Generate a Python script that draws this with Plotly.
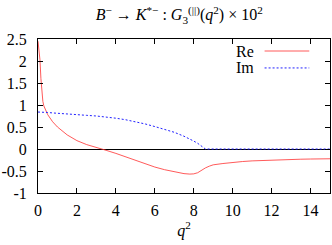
import plotly.graph_objects as go

q2 = [0, 0.05, 0.1, 0.15, 0.2, 0.25, 0.3, 0.4, 0.5, 0.75, 1.0, 1.5, 2.0, 2.5, 3.0,
      3.5, 4.0, 4.5, 5.0, 5.5, 6.0, 6.5, 7.0, 7.5, 7.8, 8.0, 8.2, 8.4, 8.6, 8.8,
      9.0, 9.5, 10, 10.5, 11, 11.5, 12, 12.5, 13, 13.5, 14, 14.5, 15]
re_vals = [2.45, 2.25, 2.03, 1.6, 1.25, 1.08, 0.98, 0.88, 0.78, 0.62, 0.50, 0.32, 0.19, 0.10, 0.04,
           -0.03, -0.10, -0.18, -0.26, -0.34, -0.41, -0.47, -0.52, -0.56, -0.57, -0.565, -0.54, -0.48, -0.43, -0.39,
           -0.36, -0.33, -0.30, -0.285, -0.27, -0.26, -0.25, -0.243, -0.237, -0.232, -0.228, -0.225, -0.222]
im_vals = [0.84, 0.84, 0.84, 0.84, 0.83, 0.83, 0.83, 0.83, 0.83, 0.82, 0.81, 0.795, 0.78, 0.765, 0.75,
           0.73, 0.70, 0.665, 0.62, 0.57, 0.51, 0.45, 0.38, 0.29, 0.23, 0.18, 0.13, 0.07, 0.0, 0.0,
           0.0, 0.0, 0.0, 0.0, 0.0, 0.0, 0.0, 0.0, 0.0, 0.0, 0.0, 0.0, 0.0]

x_ticks = [0, 2, 4, 6, 8, 10, 12, 14]
y_ticks = [-1, -0.5, 0, 0.5, 1, 1.5, 2, 2.5]
y_tick_text = ["-1", "-0.5", "0", "0.5", "1", "1.5", "2", "2.5"]

FONT = "Liberation Serif"

fig = go.Figure()
fig.add_trace(go.Scatter(x=q2, y=re_vals, mode="lines", name="Re",
                         line=dict(color="#ff3030", width=0.8), showlegend=False))
fig.add_trace(go.Scatter(x=q2, y=im_vals, mode="lines", name="Im",
                         line=dict(color="#2020ff", width=1, dash="2px,2px"), showlegend=False))

axis_common = dict(showline=True, linecolor="black", linewidth=1, mirror="ticks",
                   ticks="inside", ticklen=5, tickcolor="black", showgrid=False,
                   tickfont=dict(family=FONT, size=16, color="black"))

fig.update_layout(
    width=332, height=245,
    margin=dict(l=37, r=1, t=39, b=52),
    paper_bgcolor="white", plot_bgcolor="white",
    font=dict(family=FONT, size=16, color="black"),
    title=dict(text="<i>B</i><sup>−</sup> → <i>K</i><sup>*−</sup> : <i>G</i><sub>3</sub><sup>(||)</sup>(<i>q</i><sup>2</sup>) × 10<sup>2</sup>",
               x=0.54, xanchor="center", y=0.94, yanchor="middle",
               font=dict(family=FONT, size=16)),
    xaxis=dict(range=[0, 15], tickvals=x_ticks, zeroline=False,
               ticklabelstandoff=3,
               title=dict(text="<i>q</i><sup>2</sup>", standoff=6,
                          font=dict(family=FONT, size=16)),
               **axis_common),
    yaxis=dict(range=[-1, 2.5], tickvals=y_ticks, ticktext=y_tick_text,
               zeroline=True, zerolinecolor="black", zerolinewidth=1,
               ticklabelstandoff=7,
               **axis_common),
)

# gnuplot-style key: label then sample
fig.add_annotation(x=0.745, y=0.922, xref="paper", yref="paper", text="Re",
                   showarrow=False, xanchor="right", yanchor="middle",
                   font=dict(family=FONT, size=16))
fig.add_annotation(x=0.745, y=0.812, xref="paper", yref="paper", text="Im",
                   showarrow=False, xanchor="right", yanchor="middle",
                   font=dict(family=FONT, size=16))
fig.add_shape(type="line", xref="paper", yref="paper", x0=0.776, x1=0.929, y0=0.922, y1=0.922,
              line=dict(color="#ff3030", width=0.8))
fig.add_shape(type="line", xref="paper", yref="paper", x0=0.776, x1=0.929, y0=0.812, y1=0.812,
              line=dict(color="#2020ff", width=1, dash="2px,2px"))

fig.write_html("out.html", config={"displayModeBar": False},
               post_script="document.body.style.margin='0';document.body.style.padding='0';document.body.style.overflow='hidden';")
